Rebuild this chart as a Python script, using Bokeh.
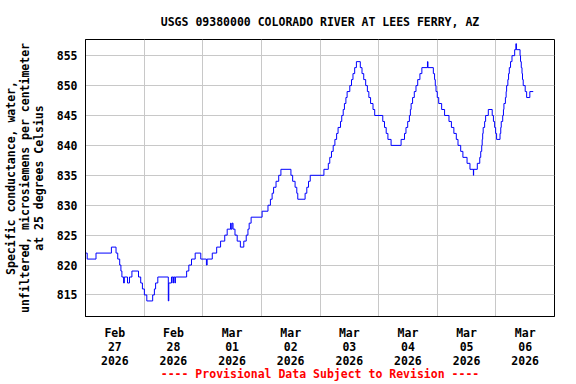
import pandas as pd
from bokeh.plotting import figure
from bokeh.models import FixedTicker, Range1d
from bokeh.embed import file_html
from bokeh.resources import INLINE

# ---------------- data ----------------
start_time = "2026-02-27 00:00"
end_time = "2026-03-07 00:00"

# hours since start_time at which the reading changes, and the reading (uS/cm)
hours = [
    0.0, 0.7, 4.3, 10.6, 12.5, 13.2, 14.0, 14.5, 14.9, 15.6, 15.9, 17.2, 18.0, 19.0,
    21.7, 22.6, 23.3, 24.1, 25.1, 27.5, 28.2, 28.7, 29.6, 33.9, 34.1, 35.2, 35.8, 36.0,
    36.6, 36.8, 41.4, 42.3, 43.4, 44.9, 47.2, 49.5, 49.8, 51.9,
    53.7, 55.3, 57.0, 58.0, 59.4, 59.6, 60.0, 60.4, 61.2, 62.1, 63.4, 64.8, 65.8, 66.5,
    67.0, 67.8, 72.3, 74.7, 75.7, 76.4, 77.0, 78.0, 79.1, 80.0, 84.1, 84.8, 85.8, 86.5,
    86.9, 89.9, 90.6, 91.3, 92.0,
    97.6, 99.4, 100.0, 100.7, 101.4, 102.1, 102.8, 103.4, 104.4, 104.9, 105.5, 106.0,
    106.6, 107.1, 108.2, 108.9, 109.5, 110.2, 110.9, 112.5, 113.2, 113.9, 114.7, 115.4,
    116.0, 116.7, 117.7, 118.4, 121.7, 122.4, 123.1, 123.8, 125.1, 129.2, 130.6, 131.2,
    131.9, 132.6, 133.0, 133.3, 133.9, 134.6, 135.3, 136.0, 136.9, 137.7, 140.0, 140.2,
    142.4, 142.9, 143.2, 143.5, 144.0, 144.6, 145.8, 147.0, 148.8, 149.8, 150.8, 151.8,
    152.5, 153.6, 154.5, 156.2, 157.4, 158.8, 158.9, 160.4, 161.4, 161.8, 162.2, 162.4,
    162.6, 162.8, 163.4, 163.8, 164.9, 166.5, 167.0, 167.5, 167.9, 168.3, 169.7, 170.0,
    170.2, 170.8, 171.1, 171.3, 171.9, 172.2, 172.4, 172.9, 173.2, 173.5, 174.0, 174.6,
    175.7, 176.2, 176.4, 177.9, 178.1, 178.4, 178.7, 178.9, 179.2, 180.0, 180.6, 181.9,
    183.3,
]
values = [
    822, 821, 822, 823, 822, 821, 820, 819, 818, 817, 818, 817, 818, 819,
    818, 817, 816, 815, 814, 815, 816, 817, 818, 814, 817, 818, 817, 818,
    817, 818, 819, 820, 821, 822, 821, 820, 821, 822,
    823, 824, 825, 826, 827, 826, 827, 826, 825, 824, 823, 824, 825, 826,
    827, 828, 829, 830, 831, 832, 833, 834, 835, 836, 835, 834, 833, 832,
    831, 832, 833, 834, 835,
    836, 837, 838, 839, 840, 841, 842, 843, 844, 845, 846, 847,
    848, 849, 850, 851, 852, 853, 854, 853, 852, 851, 850, 849,
    848, 847, 846, 845, 844, 843, 842, 841, 840, 841, 842, 843,
    844, 845, 846, 847, 848, 849, 850, 851, 852, 853, 854, 853,
    852, 851, 850, 849, 848, 847, 846, 845, 844, 843, 842, 841,
    840, 839, 838, 837, 836, 835, 836, 837, 838, 839, 840, 841,
    842, 843, 844, 845, 846, 845, 844, 843, 842, 841, 842, 843,
    844, 845, 846, 847, 848, 849, 850, 851, 852, 853, 854, 855,
    856, 857, 856, 855, 854, 853, 852, 851, 850, 849, 848, 849,
    849,
]

y_ticks = [815, 820, 825, 830, 835, 840, 845, 850, 855]
day_dates = ["2026-02-27", "2026-02-28", "2026-03-01", "2026-03-02",
             "2026-03-03", "2026-03-04", "2026-03-05", "2026-03-06"]
day_labels = ["Feb\n27\n2026", "Feb\n28\n2026", "Mar\n01\n2026", "Mar\n02\n2026",
              "Mar\n03\n2026", "Mar\n04\n2026", "Mar\n05\n2026", "Mar\n06\n2026"]
grid_dates = day_dates + ["2026-03-07"]

title_text = "USGS 09380000 COLORADO RIVER AT LEES FERRY, AZ"
y_label = "Specific conductance, water,\nunfiltered, microsiemens per centimeter\nat 25 degrees Celsius"
footnote = "---- Provisional Data Subject to Revision ----"

# ---------------- build ----------------
t0 = pd.Timestamp(start_time)
times = [t0 + pd.Timedelta(hours=h) for h in hours]


def ms(ts):
    return float(pd.Timestamp(ts).value // 10**6)


label_ticks = [ms(pd.Timestamp(d) + pd.Timedelta(hours=12)) for d in day_dates]
grid_ticks = [ms(d) for d in grid_dates]

FONT = "DejaVu Sans Mono"
FS = "11.5px"

p = figure(width=576, height=384, x_axis_type="datetime",
           output_backend="svg", toolbar_location=None,
           min_border_left=85, min_border_right=22,
           min_border_top=39, min_border_bottom=68,
           x_range=Range1d(pd.Timestamp(start_time), pd.Timestamp(end_time)),
           y_range=Range1d(811.4, 857.7))

p.title.text = title_text
p.title.align = "center"
p.title.text_font = FONT
p.title.text_font_size = FS
p.title.text_font_style = "bold"
p.title.text_color = "black"
p.title.standoff = 21

p.background_fill_color = "white"
p.border_fill_color = "white"
p.outline_line_color = "black"
p.outline_line_alpha = 1.0
p.outline_line_width = 1

p.step(times, values, mode="after", line_color="#0000ff", line_width=1)

# x axis
p.xaxis.ticker = FixedTicker(ticks=label_ticks)
p.xaxis.major_label_overrides = dict(zip(label_ticks, day_labels))
p.xaxis.major_tick_line_color = None
p.xaxis.minor_tick_line_color = None
p.xaxis.major_tick_out = 0
p.xaxis.major_tick_in = 0
p.xaxis.minor_tick_out = 0
p.xaxis.minor_tick_in = 0
p.xaxis.major_label_standoff = 9
p.xaxis.major_label_text_font = FONT
p.xaxis.major_label_text_font_size = FS
p.xaxis.major_label_text_font_style = "bold"
p.xaxis.major_label_text_color = "black"
p.xaxis.major_label_text_line_height = 1.02
p.xaxis.axis_line_color = "black"
p.xaxis.axis_label = footnote
p.xaxis.axis_label_text_font = FONT
p.xaxis.axis_label_text_font_size = FS
p.xaxis.axis_label_text_font_style = "bold"
p.xaxis.axis_label_text_color = "red"
p.xaxis.axis_label_standoff = -4
p.xgrid.ticker = FixedTicker(ticks=grid_ticks)

# y axis
p.yaxis.ticker = FixedTicker(ticks=y_ticks)
p.yaxis.major_tick_line_color = None
p.yaxis.minor_tick_line_color = None
p.yaxis.major_tick_out = 0
p.yaxis.major_tick_in = 0
p.yaxis.minor_tick_out = 0
p.yaxis.minor_tick_in = 0
p.yaxis.major_label_standoff = 8
p.yaxis.major_label_text_font = FONT
p.yaxis.major_label_text_font_size = FS
p.yaxis.major_label_text_font_style = "bold"
p.yaxis.major_label_text_color = "black"
p.yaxis.axis_label = y_label
p.yaxis.axis_label_text_font = FONT
p.yaxis.axis_label_text_font_size = FS
p.yaxis.axis_label_text_font_style = "bold"
p.yaxis.axis_label_text_color = "black"
p.yaxis.axis_label_text_line_height = 1.0
p.yaxis.axis_label_standoff = 8
p.yaxis.axis_line_color = "black"

for g in (p.xgrid, p.ygrid):
    g.grid_line_color = "#c8c8c8"
    g.grid_line_alpha = 1.0
    g.grid_line_width = 1

open("out.html", "w").write(file_html(p, INLINE))
